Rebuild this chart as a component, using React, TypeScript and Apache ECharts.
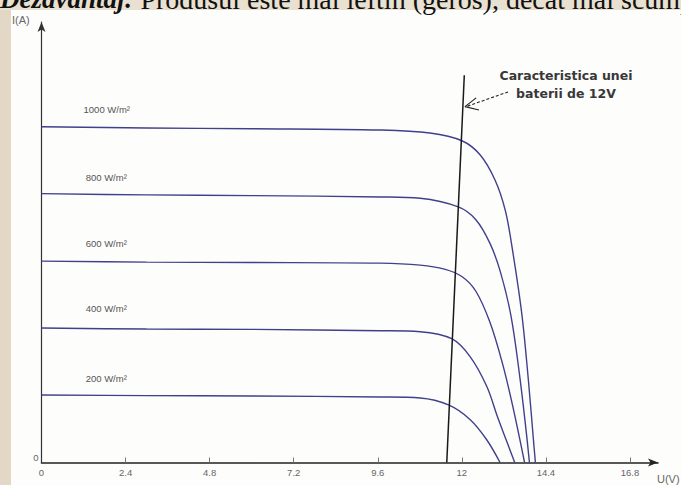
import React, { useEffect, useRef } from 'react';
import * as echarts from 'echarts';

// Axis ticks
const xTickValues = [0, 2.4, 4.8, 7.2, 9.6, 12, 14.4, 16.8];
const xTickLabels = ['0', '2.4', '4.8', '7.2', '9.6', '12', '14.4', '16.8'];
const yTickValues = [0];

// Irradiance levels
const irradianceNames = ['1000 W/m²', '800 W/m²', '600 W/m²', '400 W/m²', '200 W/m²'];

// I-V curves [U (V), I (A)]
const curve1000: [number, number][] = [
  [0, 5.02], [3, 5.0], [6, 4.99], [9.67, 4.97], [11.09, 4.925], [12.0, 4.81], [12.52, 4.6],
  [12.95, 4.22], [13.24, 3.77], [13.43, 3.23], [13.71, 2.23], [13.9, 1.23], [14.05, 0.3], [14.1, 0],
];
const curve800: [number, number][] = [
  [0, 4.02], [3, 4.0], [6, 3.99], [9.67, 3.97], [10.81, 3.95], [11.9, 3.82], [12.4, 3.63],
  [12.8, 3.28], [13.1, 2.85], [13.4, 2.2], [13.65, 1.3], [13.83, 0.5], [13.93, 0],
];
const curve600: [number, number][] = [
  [0, 3.01], [3, 2.995], [6, 2.99], [9.67, 2.98], [10.81, 2.95], [11.5, 2.89], [12.0, 2.78],
  [12.4, 2.56], [12.8, 2.1], [13.15, 1.5], [13.45, 0.85], [13.79, 0],
];
const curve400: [number, number][] = [
  [0, 2.01], [3, 1.995], [6, 1.99], [9.67, 1.97], [10.81, 1.955], [11.71, 1.85], [12.24, 1.58],
  [12.71, 1.14], [13.02, 0.68], [13.3, 0.29], [13.51, 0],
];
const curve200: [number, number][] = [
  [0, 1.01], [3, 1.0], [6, 0.995], [9.67, 0.98], [10.81, 0.964], [11.62, 0.86], [12.24, 0.64],
  [12.71, 0.34], [13.09, 0],
];
const curves = [curve1000, curve800, curve600, curve400, curve200];
const labelAnchor: [number, number][] = [[1.2, 5.28], [1.26, 4.26], [1.26, 3.28], [1.26, 2.3], [1.26, 1.26]];

// Battery characteristic
const battery: [number, number][] = [[11.57, 0], [12.07, 5.79]];
const arrowShaft: [number, number][] = [[13.32, 5.54], [12.12, 5.32]];
const arrowHead: [number, number][] = [[12.41, 5.45], [12.09, 5.32], [12.49, 5.27]];
const batteryNote = 'Caracteristica unei\nbaterii de 12V';

const curveColor = '#40408c';

export default function App() {
  const ref = useRef<HTMLDivElement>(null);
  useEffect(() => {
    document.body.style.margin = '0';
    if (!ref.current) return;
    const chart = echarts.init(ref.current, null, { renderer: 'svg' });
    const curveSeries = curves.map((c, i) => ({
      type: 'line',
      name: irradianceNames[i],
      data: c,
      smooth: 0.35,
      showSymbol: false,
      lineStyle: { color: curveColor, width: 1.4 },
      z: 3,
      markPoint: {
        symbol: 'circle',
        symbolSize: 0,
        silent: true,
        data: [{ coord: labelAnchor[i], value: irradianceNames[i] }],
        label: {
          show: true,
          position: 'inside',
          align: 'left',
          verticalAlign: 'middle',
          formatter: irradianceNames[i],
          color: '#555',
          fontSize: 9.5,
          fontFamily: 'Liberation Sans, Arial, sans-serif',
        },
      },
    }));
    chart.setOption({
      animation: false,
      backgroundColor: '#e3d8c5',
      graphic: [
        { type: 'rect', z: -100, silent: true, shape: { x: 11, y: 10, width: 670, height: 475 }, style: { fill: '#fdfdfc' } },
        { type: 'rect', z: -99, silent: true, shape: { x: 0, y: 0, width: 681, height: 10 }, style: { fill: '#e8e0d0' } },
        {
          type: 'text',
          z: 50,
          silent: true,
          style: {
            x: 0,
            y: -1,
            text: '{b|Dezavantaj:} Produsul este mai ieftin (geros), decât mai scump',
            font: '28px "Liberation Serif", serif',
            fill: '#111',
            verticalAlign: 'middle',
            rich: { b: { font: 'bold italic 27px "Liberation Serif", serif', fill: '#111' } },
          },
        },
        {
          type: 'text', z: 50, silent: true,
          style: { x: 12, y: 20, text: 'I(A)', font: '11px "Liberation Sans", Arial, sans-serif', fill: '#666', verticalAlign: 'middle' },
        },
        {
          type: 'text', z: 50, silent: true,
          style: { x: 657, y: 479, text: 'U(V)', font: '11px "Liberation Sans", Arial, sans-serif', fill: '#666', verticalAlign: 'middle' },
        },
        {
          type: 'text', z: 50, silent: true,
          style: {
            x: 566, y: 84, text: batteryNote, font: 'bold 12.5px "DejaVu Sans", Verdana, sans-serif', fill: '#383838',
            align: 'center', verticalAlign: 'middle', lineHeight: 18,
          },
        },
      ],
      grid: { left: 41.5, right: 23, top: 22, bottom: 22.5 },
      xAxis: {
        type: 'value',
        min: 0,
        max: 17.6,
        splitLine: { show: false },
        axisLine: { show: true, symbol: ['none', 'arrow'], symbolSize: [6, 10], lineStyle: { color: '#222', width: 1.6 } },
        axisTick: { show: true, inside: true, length: 5, customValues: xTickValues.slice(1), lineStyle: { color: '#777' } },
        axisLabel: {
          customValues: xTickValues,
          formatter: (v: number) => xTickLabels[xTickValues.findIndex((t) => Math.abs(t - v) < 1e-6)] ?? '',
          color: '#666',
          fontSize: 9.5,
          margin: 5,
          fontFamily: 'Liberation Sans, Arial, sans-serif',
        },
      },
      yAxis: {
        type: 'value',
        min: 0,
        max: 6.585,
        splitLine: { show: false },
        axisLine: { show: true, symbol: ['none', 'arrow'], symbolSize: [6, 10], lineStyle: { color: '#333', width: 1.2 } },
        axisTick: { show: false },
        axisLabel: {
          customValues: yTickValues,
          formatter: () => '0',
          color: '#666',
          fontSize: 9.5,
          margin: 3,
          verticalAlign: 'bottom',
          fontFamily: 'Liberation Sans, Arial, sans-serif',
        },
      },
      series: [
        ...curveSeries,
        { type: 'line', name: 'battery', data: battery, showSymbol: false, lineStyle: { color: '#1a1a1a', width: 1.5 }, z: 4 },
        { type: 'line', name: 'arrowShaft', data: arrowShaft, showSymbol: false, lineStyle: { color: '#222', width: 1.1, type: [3, 2] }, z: 4 },
        { type: 'line', name: 'arrowHead', data: arrowHead, showSymbol: false, lineStyle: { color: '#222', width: 1.1 }, z: 4 },
      ],
    });
    return () => chart.dispose();
  }, []);
  return <div ref={ref} style={{ width: 681, height: 485 }} />;
}
